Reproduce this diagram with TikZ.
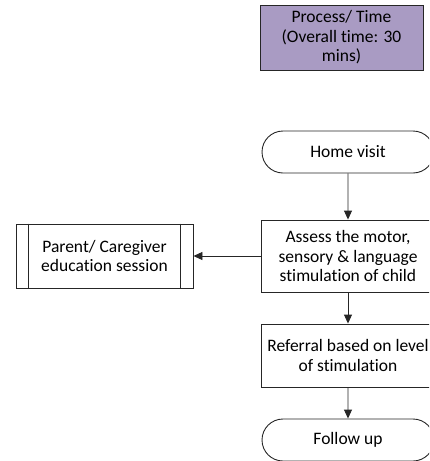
\documentclass[tikz,border=0pt]{standalone}
\usepackage{fontspec}
\setmainfont{Carlito}[Ligatures=NoCommon]
\usetikzlibrary{arrows.meta, shapes.misc}
\definecolor{lilac}{HTML}{A99BC3}
\definecolor{inkgray}{HTML}{262626}

\begin{document}
\begin{tikzpicture}[x=1pt, y=-1pt, >={Triangle[length=9pt, width=8pt]}, line width=0.9pt,
  base/.style={draw=inkgray, text=black, align=center, inner sep=1pt,
               font=\fontsize{17.5}{19.5}\selectfont},
  procbox/.style={base, minimum width=174pt, minimum height=#1},
  termbox/.style={base, rounded rectangle, minimum width=174pt, minimum height=42pt},
  flow/.style={->, inkgray, line width=0.9pt}]

% Frame of the picture
\path[use as bounding box] (0,0) rectangle (429,461);
\clip (0,0) rectangle (429,461);

% Header
\node[base, fill=lilac, minimum width=163pt, minimum height=65pt] (header) at (341.5,37.5)
  {Process/ Time\\(Overall time: 30\\mins)};

% =========== MAIN FLOW ===========
\node[termbox] (home) at (348,152) {Home visit};
\node[procbox=72pt] (assess) at (348,256)
  {Assess the motor,\\sensory \& language\\stimulation of child};
\node[procbox=63pt] (referral) at (348,355.5)
  {Referral based on level\\of stimulation};
\node[termbox] (follow) at (348,440) {Follow up};

\draw[flow] (home) -- (assess);
\draw[flow] (assess) -- (referral);
\draw[flow] (referral) -- (follow);

% Side branch: predefined process
\node[base, minimum width=177pt, minimum height=64pt] (parent) at (104.5,256)
  {Parent/ Caregiver\\education session};
\draw[inkgray] ([xshift=13pt]parent.north west) -- ([xshift=13pt]parent.south west);
\draw[inkgray] ([xshift=-13pt]parent.north east) -- ([xshift=-13pt]parent.south east);

\draw[flow] (assess) -- (parent);

\end{tikzpicture}
\end{document}
